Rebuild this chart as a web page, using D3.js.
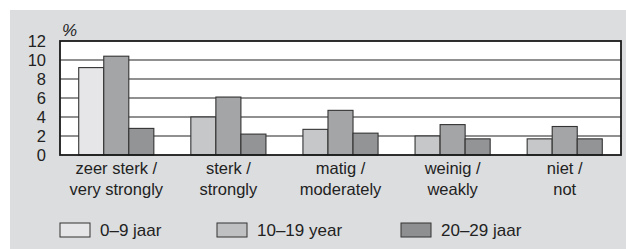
<!DOCTYPE html>
<html>
<head>
<meta charset="utf-8">
<script src="https://cdn.jsdelivr.net/npm/d3@7"></script>
<style>
  body { margin: 0; background: #fff; }
  svg text { font-family: "Liberation Sans", Arial, sans-serif; fill: #222; }
</style>
</head>
<body>
<svg id="chart" width="626" height="249"></svg>
<script>
// data
const categories = [
    ["zeer sterk /", "very strongly"],
    ["sterk /", "strongly"],
    ["matig /", "moderately"],
    ["weinig /", "weakly"],
    ["niet /", "not"]
];
const seriesNames = ["0\u20139 jaar", "10\u201319 year", "20\u201329 jaar"];
const age0to9 = [9.2, 4.0, 2.7, 2.0, 1.7];
const age10to19 = [10.4, 6.1, 4.7, 3.2, 3.0];
const age20to29 = [2.8, 2.2, 2.3, 1.7, 1.7];
const yTicks = [0, 2, 4, 6, 8, 10, 12];

const seriesValues = [age0to9, age10to19, age20to29];

// colours as printed: bars and legend swatches do not quite agree in the original
const barColors = ["#c6c7c9", "#a4a5a7", "#939496"];
const legendColors = ["#e6e6e8", "#bfc0c2", "#8e8f91"];

const margin = {top: 41, left: 60, right: 5, bottom: 94};
const width = 626, height = 249;

let svg = d3.select("#chart");

svg.append("rect")
    .attr("x", 10).attr("y", 10)
    .attr("width", width - 10).attr("height", height - 10)
    .attr("fill", "#dcdddf");

let plotW = width - margin.left - margin.right;
let plotH = height - margin.top - margin.bottom;

let g = svg.append("g")
    .attr("transform", "translate(" + margin.left + "," + margin.top + ")");

let yScale = d3.scaleLinear().domain([0, 12]).range([plotH, 0]);

let xScale = d3.scaleBand()
    .domain(d3.range(categories.length))
    .range([0, plotW])
    .paddingInner(0.33)
    .paddingOuter(0.167);

let xSub = d3.scaleBand()
    .domain(d3.range(seriesNames.length))
    .range([0, xScale.bandwidth()]);

// plot background
g.append("rect")
    .attr("width", plotW).attr("height", plotH)
    .attr("fill", "#fff");

// gridlines
g.selectAll(".grid").data(yTicks.slice(1, -1))
    .enter().append("line")
    .attr("class", "grid")
    .attr("x1", 0).attr("x2", plotW)
    .attr("y1", d => yScale(d)).attr("y2", d => yScale(d))
    .attr("stroke", "#222").attr("stroke-width", 1.1);

// bars
seriesValues.forEach(function(values, s) {
    g.selectAll(".bar-" + s).data(values)
        .enter().append("rect")
        .attr("class", "bar-" + s)
        .attr("x", (d, i) => xScale(i) + xSub(s))
        .attr("y", d => yScale(d))
        .attr("width", xSub.bandwidth())
        .attr("height", d => plotH - yScale(d))
        // first bar of the first group is the only one printed in the light legend shade
        .attr("fill", (d, i) => (s === 0 && i === 0) ? legendColors[0] : barColors[s])
        .attr("stroke", "#333")
        .attr("stroke-width", 1.1);
});

// frame
g.append("rect")
    .attr("width", plotW).attr("height", plotH)
    .attr("fill", "none")
    .attr("stroke", "#1a1a1a").attr("stroke-width", 1.8);

// y axis
let yAxis = d3.axisLeft(yScale).tickValues(yTicks).tickSize(0).tickPadding(14);
let yAxisG = g.append("g").call(yAxis);
yAxisG.select(".domain").remove();
yAxisG.selectAll("text")
    .attr("font-size", 16.5)
    .attr("fill", "#222")
    .style("font-family", "'Liberation Sans', Arial, sans-serif");

g.append("text")
    .attr("x", 2).attr("y", -5)
    .attr("font-size", 17)
    .attr("font-style", "italic")
    .text("%");

// category labels
let catG = g.selectAll(".cat").data(categories)
    .enter().append("text")
    .attr("class", "cat")
    .attr("text-anchor", "middle")
    .attr("font-size", 16.5)
    .attr("transform", (d, i) => "translate(" + (xScale(i) + xScale.bandwidth() / 2) + "," + (plotH + 19) + ")");
catG.selectAll("tspan").data(d => d)
    .enter().append("tspan")
    .attr("x", 0)
    .attr("y", (d, i) => i * 21)
    .text(d => d);

// legend
let legendX = [60, 217, 401];
let legend = svg.selectAll(".legend").data(seriesNames)
    .enter().append("g")
    .attr("class", "legend")
    .attr("transform", (d, i) => "translate(" + legendX[i] + ",223)");
legend.append("rect")
    .attr("width", 30).attr("height", 14)
    .attr("fill", (d, i) => legendColors[i])
    .attr("stroke", "#333").attr("stroke-width", 1);
legend.append("text")
    .attr("x", 40).attr("y", 13)
    .attr("font-size", 17)
    .text(d => d);
</script>
</body>
</html>
